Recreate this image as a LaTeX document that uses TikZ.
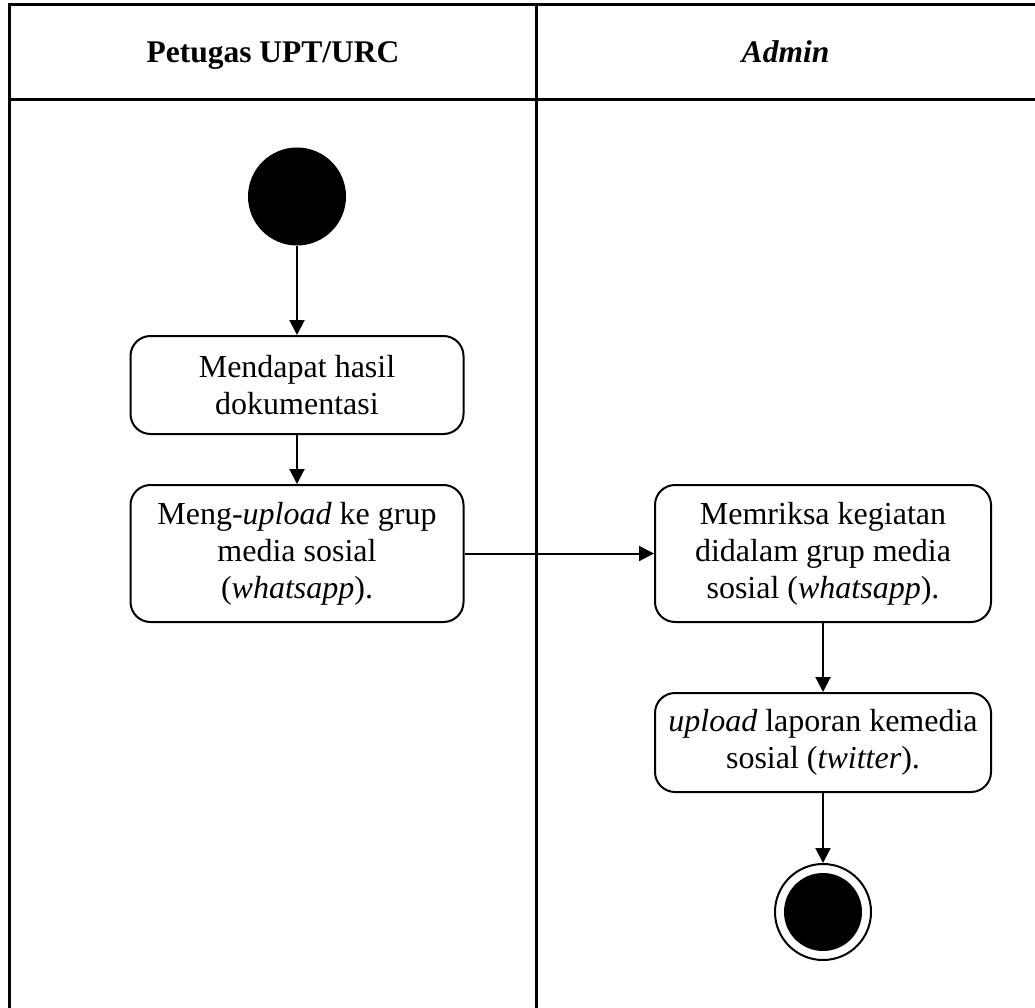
\documentclass[tikz,border=0pt]{standalone}
\usepackage{fontspec}
\setmainfont{Liberation Serif}
\usetikzlibrary{arrows.meta}
\tikzset{
  frameline/.style={line width=3pt},
  actbox/.style={draw, line width=2pt, rounded corners=20pt, align=center,
    font=\fontsize{32}{37}\selectfont, inner sep=0pt},
  flow/.style={line width=2pt, -{Triangle[length=15pt,width=15pt]}},
  hdr/.style={font=\fontsize{31.5}{36}\selectfont\bfseries, anchor=base},
}
\begin{document}
\begin{tikzpicture}[x=1pt,y=-1pt]
\useasboundingbox (0,0) rectangle (1035,1008);
% swimlane frame
\draw[frameline] (9,1008) -- (9,5) -- (1035,5);
\draw[frameline] (9,100) -- (1035,100);
\draw[frameline] (536,5) -- (536,1008);
\node[hdr] (h1) at (273,63) {Petugas UPT/URC};
\node[hdr] (h2) at (785.5,63) {\itshape Admin};
% start
\node[circle, fill=black, minimum size=98pt, inner sep=0pt] (start) at (297,196.5) {};
\node[actbox, minimum width=333pt, minimum height=98pt] (a1) at (297,385) {Mendapat hasil\\dokumentasi};
\node[actbox, minimum width=333pt, minimum height=137pt] (a2) at (297,553.5) {Meng-\emph{upload} ke grup\\media sosial\\(\emph{whatsapp}).};
\node[actbox, minimum width=336pt, minimum height=137pt] (a3) at (823,553.5) {Memriksa kegiatan\\didalam grup media\\sosial (\emph{whatsapp}).};
\node[actbox, minimum width=336pt, minimum height=99pt] (a4) at (823,742.5) {\emph{upload} laporan kemedia\\sosial (\emph{twitter}).};
% end
\node[circle, draw, line width=2pt, minimum size=96pt, inner sep=0pt] (end) at (823,912) {};
\node[circle, fill=black, minimum size=78pt, inner sep=0pt] (endin) at (end.center) {};
% flows
\draw[flow] (start) -- (a1);
\draw[flow] (a1) -- (a2);
\draw[flow] (a2) -- (a3);
\draw[flow] (a3) -- (a4);
\draw[flow] (a4) -- (end);
\end{tikzpicture}
\end{document}
